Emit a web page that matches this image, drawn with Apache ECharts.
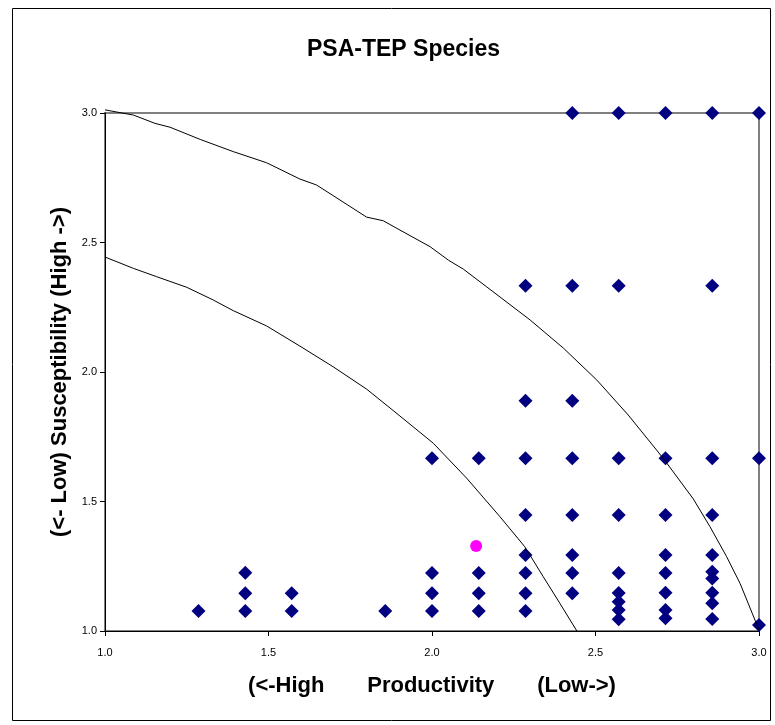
<!DOCTYPE html>
<html>
<head>
<meta charset="utf-8">
<script src="https://cdn.jsdelivr.net/npm/echarts@6/dist/echarts.min.js"></script>
<style>
  html, body { margin: 0; padding: 0; background: #fff; }
  #chart { width: 775px; height: 725px; }
</style>
</head>
<body>
<div id="chart"></div>
<script>
// productivity columns and the susceptibility scores found in each
const prodColumns = [1.286, 1.429, 1.571, 1.857, 2.0, 2.143, 2.286, 2.429, 2.571, 2.714, 2.857, 3.0];
const suscByColumn = [
    [1.077],
    [1.077, 1.146, 1.225],
    [1.077, 1.146],
    [1.077],
    [1.077, 1.146, 1.224, 1.667],
    [1.077, 1.146, 1.224, 1.667],
    [1.077, 1.146, 1.224, 1.293, 1.448, 1.667, 1.889, 2.333],
    [1.146, 1.224, 1.293, 1.448, 1.667, 1.889, 2.333, 3.0],
    [1.045, 1.081, 1.113, 1.147, 1.224, 1.448, 1.667, 2.333, 3.0],
    [1.049, 1.081, 1.148, 1.224, 1.293, 1.448, 1.667, 3.0],
    [1.046, 1.107, 1.148, 1.203, 1.229, 1.293, 1.448, 1.667, 2.333, 3.0],
    [1.023, 1.667, 3.0],
];

// the single highlighted species (pink dot)
const highlightProd = [2.135];
const highlightSusc = [1.328];

// vulnerability cut-off curves
const outerCurveProd = [1.000, 1.087, 1.153, 1.199, 1.291, 1.392, 1.494, 1.596, 1.647, 1.800, 1.851, 1.892, 1.994, 2.050, 2.096, 2.167, 2.300, 2.402, 2.504, 2.600, 2.707, 2.799, 2.850, 2.901, 2.942, 3.000];
const outerCurveSusc = [3.012, 2.992, 2.960, 2.945, 2.898, 2.851, 2.808, 2.745, 2.722, 2.598, 2.584, 2.555, 2.484, 2.432, 2.397, 2.329, 2.201, 2.092, 1.969, 1.834, 1.667, 1.510, 1.403, 1.287, 1.184, 1.004];
const innerCurveProd = [1.000, 1.087, 1.158, 1.250, 1.331, 1.392, 1.494, 1.596, 1.698, 1.800, 1.902, 2.004, 2.106, 2.208, 2.284, 2.340, 2.391, 2.443];
const innerCurveSusc = [2.444, 2.400, 2.368, 2.327, 2.278, 2.237, 2.178, 2.100, 2.020, 1.934, 1.830, 1.725, 1.590, 1.441, 1.325, 1.210, 1.107, 1.000];

const FONT = '"Liberation Sans", Arial, sans-serif';

function zipPoints(xs, ys) {
    return xs.map((x, i) => [x, ys[i]]);
}

const speciesPoints = [];
prodColumns.forEach((p, i) => {
    suscByColumn[i].forEach((s) => speciesPoints.push([p, s]));
});

const chart = echarts.init(document.getElementById('chart'));

const option = {
    backgroundColor: '#fff',
    animation: false,
    title: {
        text: 'PSA-TEP Species',
        left: 302,
        top: 33,
        textStyle: { fontFamily: FONT, fontSize: 23, fontWeight: 'bold', color: '#000' },
    },
    graphic: [
        {
            type: 'rect',
            shape: { x: 12.5, y: 8.5, width: 758, height: 712 },
            style: { fill: null, stroke: '#000', lineWidth: 1 },
            silent: true,
        },
    ],
    grid: {
        left: 105,
        top: 113,
        right: 16,
        bottom: 94,
        show: true,
        borderColor: '#808080',
        borderWidth: 2,
        backgroundColor: 'transparent',
    },
    xAxis: {
        type: 'value',
        min: 1,
        max: 3,
        interval: 0.5,
        name: '(<-High       Productivity       (Low->)',
        nameLocation: 'middle',
        nameGap: 44,
        nameTextStyle: { fontFamily: FONT, fontSize: 22, fontWeight: 'bold', color: '#000' },
        axisLine: { lineStyle: { color: '#000', width: 1 } },
        axisTick: { show: true, length: 5, lineStyle: { color: '#000' } },
        axisLabel: {
            fontFamily: FONT,
            fontSize: 11,
            color: '#000',
            margin: 16,
            formatter: (v) => v.toFixed(1),
        },
        splitLine: { show: false },
    },
    yAxis: {
        type: 'value',
        min: 1,
        max: 3,
        interval: 0.5,
        name: '(<- Low) Susceptibility (High ->)',
        nameLocation: 'middle',
        nameRotate: 90,
        nameGap: 34,
        nameTextStyle: { fontFamily: FONT, fontSize: 22, fontWeight: 'bold', color: '#000' },
        axisLine: { show: true, lineStyle: { color: '#000', width: 1 } },
        axisTick: { show: true, length: 5, lineStyle: { color: '#000' } },
        axisLabel: {
            fontFamily: FONT,
            fontSize: 11,
            color: '#000',
            margin: 8,
            formatter: (v) => v.toFixed(1),
        },
        splitLine: { show: false },
    },
    series: [
        {
            name: 'Species',
            type: 'scatter',
            symbol: 'diamond',
            symbolSize: 14,
            clip: false,
            itemStyle: { color: '#000080', opacity: 1 },
            data: speciesPoints,
            z: 2,
        },
        {
            name: 'Highlighted',
            type: 'scatter',
            symbol: 'circle',
            symbolSize: 12,
            clip: false,
            itemStyle: { color: '#FF00FF', opacity: 1 },
            data: zipPoints(highlightProd, highlightSusc),
            z: 2,
        },
        {
            name: 'Outer curve',
            type: 'line',
            showSymbol: false,
            clip: false,
            lineStyle: { color: '#000', width: 1 },
            data: zipPoints(outerCurveProd, outerCurveSusc),
            z: 3,
        },
        {
            name: 'Inner curve',
            type: 'line',
            showSymbol: false,
            clip: false,
            lineStyle: { color: '#000', width: 1 },
            data: zipPoints(innerCurveProd, innerCurveSusc),
            z: 3,
        },
    ],
};

chart.setOption(option);
</script>
</body>
</html>
